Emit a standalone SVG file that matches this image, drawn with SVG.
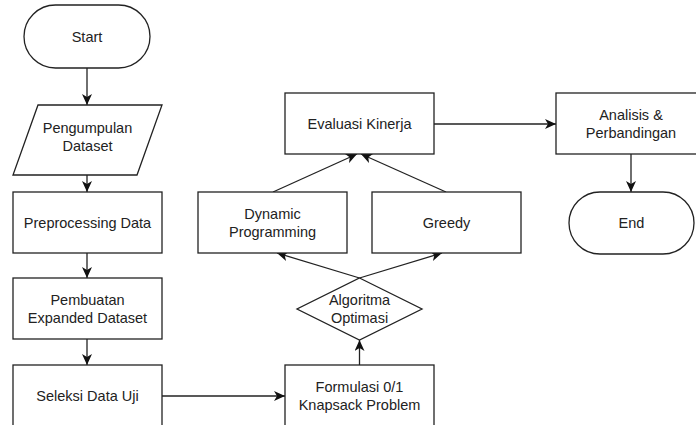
<svg xmlns="http://www.w3.org/2000/svg" width="696" height="425" viewBox="0 0 696 425">
<defs>
<style>
.n{fill:#fff;stroke:#222;stroke-width:1.3}
.t{font-family:"Liberation Sans",Arial,sans-serif;font-size:14.5px;fill:#222;text-anchor:middle;dominant-baseline:central}
.c{fill:none;stroke:#222;stroke-width:1.3;marker-end:url(#a)}
</style>
<marker id="a" markerUnits="userSpaceOnUse" markerWidth="12" markerHeight="10" viewBox="0 0 12 10" refX="11" refY="5" orient="auto">
<path d="M0,0 L11,5 L0,10 L3,5 z" fill="#111"/>
</marker>
</defs>
<rect width="696" height="425" fill="#fff"/>
<g id="connectors">
<path class="c" d="M87,68 V105"/>
<path class="c" d="M87,175 V192"/>
<path class="c" d="M87,253 V278"/>
<path class="c" d="M87,339 V365"/>
<path class="c" d="M162,396 H285"/>
<path class="c" d="M359.5,365 V340"/>
<path class="c" d="M359.5,278 L277,253"/>
<path class="c" d="M359.5,278 L442,253"/>
<path class="c" d="M273,192 L357,154"/>
<path class="c" d="M446,192 L361,154"/>
<path class="c" d="M434,124 H556"/>
<path class="c" d="M631,154 V192"/>
</g>
<g id="start">
<rect class="n" x="24" y="5" width="126" height="63" rx="31.5"/>
<text class="t" x="87" y="36.5">Start</text>
</g>
<g id="pengumpulan">
<polygon class="n" points="38,105 162,105 137,175 13,175"/>
<text class="t" x="87.5" y="127.5">Pengumpulan</text>
<text class="t" x="87.5" y="145.5">Dataset</text>
</g>
<g id="preprocessing">
<rect class="n" x="13" y="192" width="149" height="61"/>
<text class="t" x="87.5" y="222.5">Preprocessing Data</text>
</g>
<g id="pembuatan">
<rect class="n" x="13" y="278" width="149" height="61"/>
<text class="t" x="87.5" y="299.5">Pembuatan</text>
<text class="t" x="87.5" y="317.5">Expanded Dataset</text>
</g>
<g id="seleksi">
<rect class="n" x="13" y="365" width="149" height="61"/>
<text class="t" x="87.5" y="395.5">Seleksi Data Uji</text>
</g>
<g id="formulasi">
<rect class="n" x="285" y="365" width="149" height="61"/>
<text class="t" x="359.5" y="386.5">Formulasi 0/1</text>
<text class="t" x="359.5" y="404.5">Knapsack Problem</text>
</g>
<g id="algoritma">
<polygon class="n" points="359.5,278 422,309 359.5,340 297,309"/>
<text class="t" x="359.5" y="300">Algoritma</text>
<text class="t" x="359.5" y="318">Optimasi</text>
</g>
<g id="dp">
<rect class="n" x="198" y="192" width="149" height="61"/>
<text class="t" x="272.5" y="213.5">Dynamic</text>
<text class="t" x="272.5" y="231.5">Programming</text>
</g>
<g id="greedy">
<rect class="n" x="372" y="192" width="149" height="61"/>
<text class="t" x="446.5" y="222.5">Greedy</text>
</g>
<g id="evaluasi">
<rect class="n" x="285" y="93" width="149" height="61"/>
<text class="t" x="359.5" y="123.5">Evaluasi Kinerja</text>
</g>
<g id="analisis">
<rect class="n" x="556" y="93" width="149" height="61"/>
<text class="t" x="631" y="114.5">Analisis &amp;</text>
<text class="t" x="631" y="132.5">Perbandingan</text>
</g>
<g id="end">
<rect class="n" x="569" y="192" width="125" height="62" rx="31"/>
<text class="t" x="631.5" y="223">End</text>
</g>
</svg>
